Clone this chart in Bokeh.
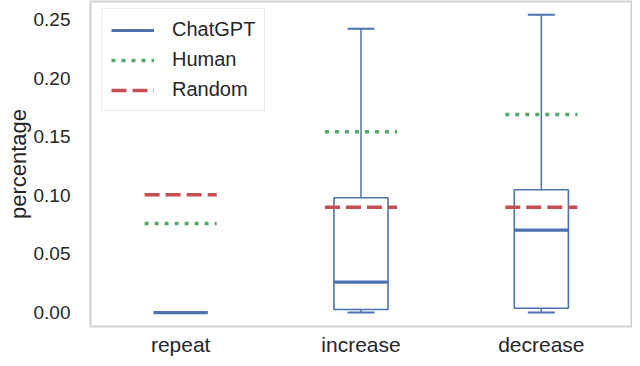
from bokeh.plotting import figure
from bokeh.models import ColumnDataSource, Legend, LegendItem
from bokeh.transform import dodge
from bokeh.embed import file_html
from bokeh.resources import INLINE

cats = ["repeat", "increase", "decrease"]
whisker_low = [0.0, 0.0, 0.0]
q1 = [0.0, 0.0026, 0.0037]
median = [0.0, 0.0259, 0.0703]
q3 = [0.0, 0.0979, 0.1047]
whisker_high = [0.0, 0.242, 0.254]
human = [0.0759, 0.1542, 0.169]
random_ = [0.1004, 0.0899, 0.0899]
y_ticks = [0.0, 0.05, 0.10, 0.15, 0.20, 0.25]

BLUE = "#4c72b0"
GREEN = "#55a868"
RED = "#c44e52"
TXT = "#262626"
FONT = "Liberation Sans"

src = ColumnDataSource(dict(cats=cats, lo=whisker_low, q1=q1, med=median, q3=q3,
                            hi=whisker_high, human=human, rnd=random_))

p = figure(x_range=cats, y_range=(-0.0119, 0.2653), width=632, height=358,
           output_backend="svg", toolbar_location=None,
           min_border_left=90, min_border_right=1, min_border_top=1, min_border_bottom=31)
p.xgrid.visible = False
p.ygrid.visible = False
p.outline_line_color = "#d0d0d0"
p.outline_line_width = 2
p.background_fill_color = "white"
p.border_fill_color = "white"

xr = p.x_range
# whiskers
p.segment(x0="cats", y0="lo", x1="cats", y1="q1", source=src, line_color=BLUE, line_width=1.5)
p.segment(x0="cats", y0="q3", x1="cats", y1="hi", source=src, line_color=BLUE, line_width=1.5)
# caps
p.segment(x0=dodge("cats", -0.075, range=xr), y0="lo", x1=dodge("cats", 0.075, range=xr), y1="lo",
          source=src, line_color=BLUE, line_width=2)
p.segment(x0=dodge("cats", -0.075, range=xr), y0="hi", x1=dodge("cats", 0.075, range=xr), y1="hi",
          source=src, line_color=BLUE, line_width=2)
# boxes
p.vbar(x="cats", width=0.3, bottom="q1", top="q3", source=src, fill_color="white",
       line_color=BLUE, line_width=1.6)
# medians and reference lines
r_med = p.segment(x0=dodge("cats", -0.15, range=xr), y0="med", x1=dodge("cats", 0.15, range=xr), y1="med",
                  source=src, line_color=BLUE, line_width=3.2)
r_hum = p.segment(x0=dodge("cats", -0.2, range=xr), y0="human", x1=dodge("cats", 0.2, range=xr), y1="human",
                  source=src, line_color=GREEN, line_width=3.5, line_dash="4 6")
r_rnd = p.segment(x0=dodge("cats", -0.2, range=xr), y0="rnd", x1=dodge("cats", 0.2, range=xr), y1="rnd",
                  source=src, line_color=RED, line_width=3.5, line_dash="15 6")

for ax in (p.xaxis[0], p.yaxis[0]):
    ax.axis_line_color = None
    ax.major_tick_line_color = None
    ax.minor_tick_line_color = None
    ax.major_tick_out = 0
    ax.major_tick_in = 0
    ax.minor_tick_out = 0
    ax.minor_tick_in = 0
    ax.major_label_text_color = TXT
    ax.major_label_text_font = FONT
    ax.axis_label_text_color = TXT
    ax.axis_label_text_font = FONT
    ax.axis_label_text_font_style = "normal"

p.xaxis.major_label_text_font_size = "21px"
p.xaxis.major_label_standoff = 6
p.yaxis.ticker = y_ticks
p.yaxis.major_label_overrides = {0.0: "0.00", 0.05: "0.05", 0.10: "0.10", 0.15: "0.15", 0.20: "0.20", 0.25: "0.25"}
p.yaxis.major_label_text_font_size = "19px"
p.yaxis.major_label_standoff = 20
p.yaxis.axis_label = "percentage"
p.yaxis.axis_label_text_font_size = "22px"
p.yaxis.axis_label_standoff = 0

legend = Legend(items=[LegendItem(label="ChatGPT", renderers=[r_med]),
                       LegendItem(label="Human", renderers=[r_hum]),
                       LegendItem(label="Random", renderers=[r_rnd])],
                location=(11, 215), margin=0, padding=9, spacing=7,
                glyph_width=43, glyph_height=20, label_height=20, label_standoff=18,
                label_text_font=FONT, label_text_font_size="20px", label_text_color=TXT,
                border_line_color="#d8d8d8", border_line_width=1.5, background_fill_color="white",
                background_fill_alpha=1.0)
p.add_layout(legend, "center")

open("out.html", "w").write(file_html(p, INLINE))
